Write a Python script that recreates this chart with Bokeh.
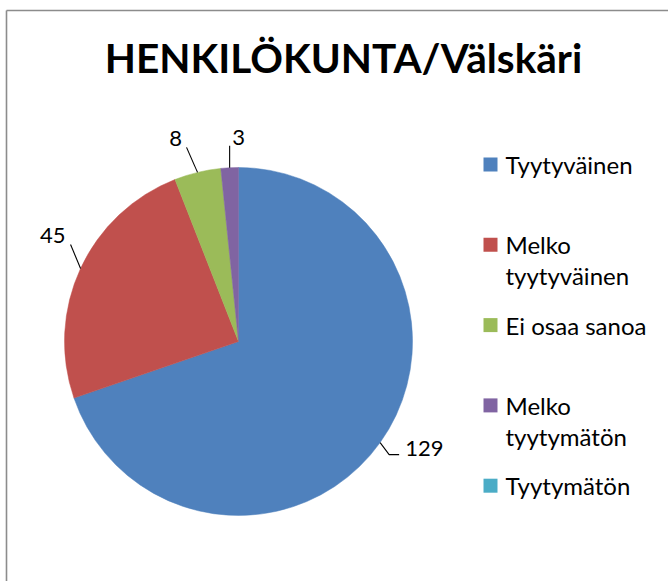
import numpy as np
from bokeh.plotting import figure
from bokeh.models import Range1d, ColumnDataSource
from bokeh.core.properties import value
from bokeh.embed import file_html
from bokeh.resources import INLINE

# ---------------- data ----------------
title = "HENKILÖKUNTA/Välskäri"
categories = ["Tyytyväinen", "Melko tyytyväinen", "Ei osaa sanoa",
              "Melko tyytymätön", "Tyytymätön"]
legend_lines = [["Tyytyväinen"], ["Melko", "tyytyväinen"], ["Ei osaa sanoa"],
                ["Melko", "tyytymätön"], ["Tyytymätön"]]
counts = [129, 45, 8, 3, 0]
colors = ["#4F81BD", "#C0504D", "#9BBB59", "#8064A2", "#4BACC6"]

# ---------------- layout / style ----------------
FONT = "Lato"
W, H = 668, 581
cx, cy, R = 238, -341, 174          # pie centre (page px, y negated) and radius
# label leader offsets relative to slice edge point
label_style = [
    dict(pts=[(9, -12), (19, -12)], text=(25, -6), align="left"),
    dict(pts=[(-10, 24)], text=(-15, 33), align="right"),
    dict(pts=[(-11, 25)], text=(-22, 34), align="center"),
    dict(pts=[(0, 22)], text=(9, 30), align="center"),
]
leg_x, leg_y0, leg_step, leg_line = 490, 164, 80.3, 31

p = figure(width=W, height=H, output_backend="svg", toolbar_location=None,
           x_range=Range1d(0, W), y_range=Range1d(-H, 0),
           x_axis_location=None, y_axis_location=None, min_border=0)
p.grid.visible = False
p.outline_line_color = None
p.background_fill_color = "white"
p.border_fill_color = "white"

# chart-area border (left and top)
p.segment(x0=[6, 6], y0=[-10, -10], x1=[W, 6], y1=[-10, -H],
          line_color="#8c8c8c", line_width=1.6)

# title
p.text(x=[343], y=[-57], text=[title], text_font=value(FONT),
       text_font_style="bold", text_font_size="40.5px", text_align="center",
       text_baseline="middle", text_color="black")

# pie
vals = np.array(counts, dtype=float)
frac = vals / vals.sum()
cum = np.concatenate([[0.0], np.cumsum(frac)])
start = np.pi / 2 - cum[:-1] * 2 * np.pi
end = np.pi / 2 - cum[1:] * 2 * np.pi
mask = vals > 0
src = ColumnDataSource(dict(start=start[mask], end=end[mask],
                            color=[c for c, m in zip(colors, mask) if m]))
p.wedge(x=cx, y=cy, radius=R, start_angle="start", end_angle="end",
        direction="clock", fill_color="color", line_color="color",
        line_width=0.5, source=src)

# data labels with leader lines
mid = (start + end) / 2
li = 0
for i, v in enumerate(counts):
    if v <= 0:
        continue
    st = label_style[li]
    li += 1
    ex = cx + R * np.cos(mid[i])
    ey = cy + R * np.sin(mid[i])
    xs = [ex] + [ex + dx for dx, dy in st["pts"]]
    ys = [ey] + [ey + dy for dx, dy in st["pts"]]
    p.line(xs, ys, line_color="black", line_width=1.1)
    tx, ty = st["text"]
    p.text(x=[ex + tx], y=[ey + ty], text=[str(v)], text_font=value(FONT),
           text_font_size="22px", text_align=st["align"],
           text_baseline="middle", text_color="black")

# legend
for i, (lines, col) in enumerate(zip(legend_lines, colors)):
    y = -(leg_y0 + leg_step * i)
    p.rect(x=[leg_x], y=[y], width=14, height=14, fill_color=col, line_color=None)
    for j, t in enumerate(lines):
        p.text(x=[leg_x + 15], y=[y - leg_line * j], text=[t],
               text_font=value(FONT), text_font_size="24px", text_align="left",
               text_baseline="middle", text_color="black")

open("out.html", "w").write(file_html(p, INLINE))
